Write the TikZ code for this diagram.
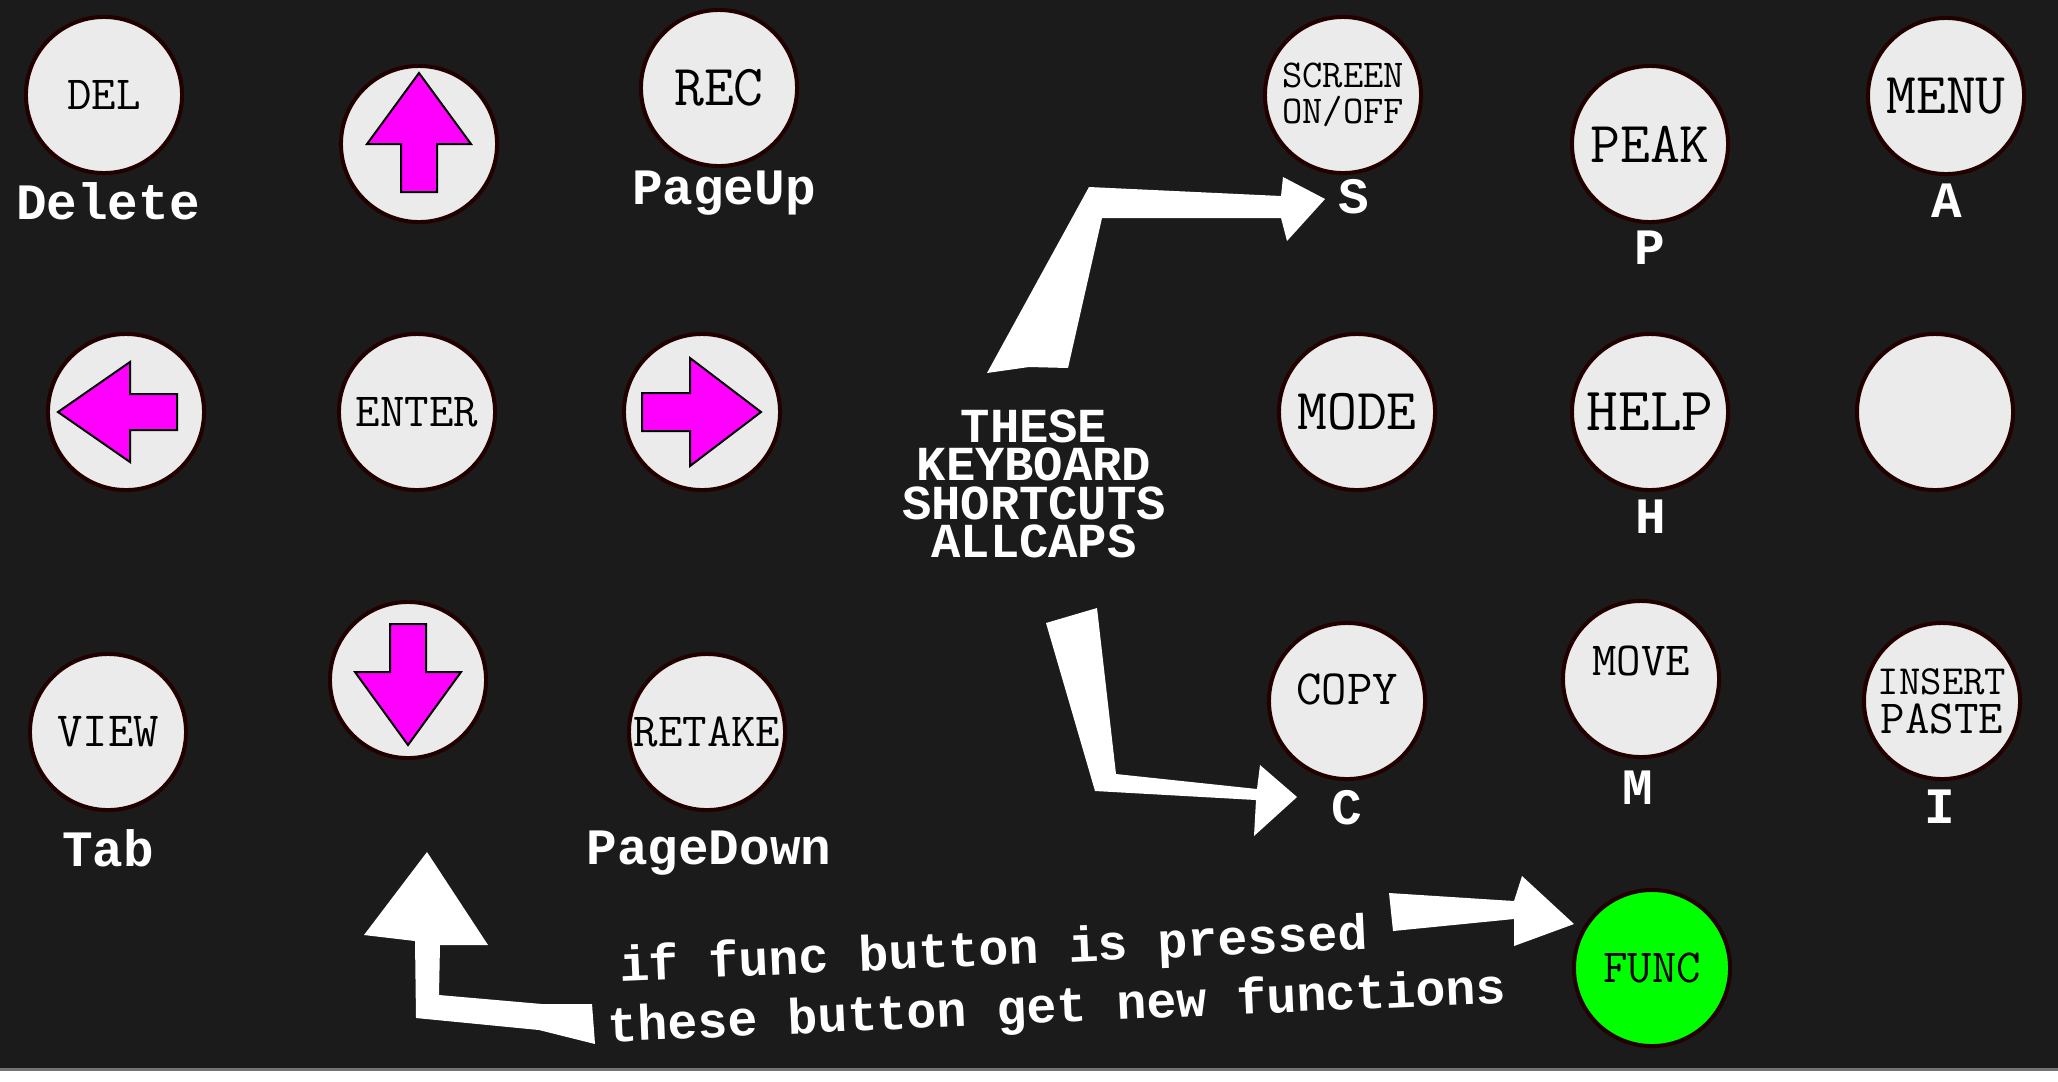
\documentclass[tikz,border=0pt]{standalone}
\usepackage{fontspec}
\newfontfamily\lblfont{Liberation Mono}
\usetikzlibrary{calc}
\definecolor{panel}{HTML}{1B1B1B}
\definecolor{keyface}{HTML}{EBEBEB}
\definecolor{keyrim}{HTML}{220000}
\definecolor{funcgreen}{HTML}{00FF00}
\definecolor{arrowpink}{HTML}{FF00FF}
\tikzset{
  btn/.style     = {circle, draw=keyrim, line width=0.4mm, fill=keyface, minimum size=15.6mm,
                    inner sep=0pt, align=center, font=\ttfamily\fontsize{13.5}{13.5}\selectfont},
  keytxt/.style  = {inner sep=0pt, font=\ttfamily\fontsize{13.5}{13.5}\selectfont},
  bigtxt/.style  = {font=\ttfamily\fontsize{16.5}{16.5}\selectfont},
  lbl/.style     = {text=white, anchor=base, inner sep=0pt,
                    font=\lblfont\bfseries\fontsize{14.5}{17}\selectfont},
  note/.style    = {text=white, inner sep=0pt, font=\lblfont\bfseries\fontsize{14.2}{17}\selectfont},
  pink/.style    = {draw=black, line width=0.2mm, fill=arrowpink},
  fatarrow/.style= {fill=white},
}

\begin{document}
\begin{tikzpicture}[x=0.01cm,y=-0.01cm]
  \useasboundingbox (0,0) rectangle (2058,1081);
  \fill[panel] (0,0) rectangle (2058,1069);
  \fill[black!55] (0,1068) rectangle (2058,1071);
  \fill[white] (0,1071) rectangle (2058,1081);

  % left block
  \node[btn] (del) at (104,95) {DEL};
  \node[btn] (up) at (419,144) {};
  \node[btn,bigtxt] (rec) at (719,88) {REC};
  \node[btn] (left) at (126,412) {};
  \node[btn] (enter) at (417,412) {ENTER};
  \node[btn] (right) at (702,412) {};
  \node[btn,font=\ttfamily\fontsize{14}{14}\selectfont] (view) at (108,732) {VIEW};
  \node[btn] (down) at (408,680) {};
  \node[btn] (retake) at (707,732) {RETAKE};

  \draw[pink,shift={(up)}] (0,-71) -- (52,0) -- (18,0) -- (18,48) -- (-18,48) -- (-18,0) -- (-52,0) -- cycle;
  \draw[pink,shift={(down)}] (-18,-56) -- (18,-56) -- (18,-8) -- (53,-8) -- (0,65) -- (-53,-8) -- (-18,-8) -- cycle;
  \draw[pink,shift={(left)}] (-68,0) -- (4,-50) -- (4,-18) -- (51,-18) -- (51,18) -- (4,18) -- (4,50) -- cycle;
  \draw[pink,shift={(right)}] (-60,-19) -- (-12,-19) -- (-12,-54) -- (59,0) -- (-12,54) -- (-12,19) -- (-60,19) -- cycle;

  % right block
  \node[btn,font=\ttfamily\fontsize{11.2}{10.2}\selectfont] (screen) at (1343,95) {SCREEN\\ON/OFF};
  \node[btn,bigtxt] (peak) at (1650,144) {PEAK};
  \node[btn,bigtxt] (menu) at (1946,96) {MENU};
  \node[btn,bigtxt] (mode) at (1357,412) {MODE};
  \node[btn,font=\ttfamily\fontsize{17.5}{17.5}\selectfont] (help) at (1650,412) {HELP};
  \node[btn] (blank) at (1935,412) {};
  \node[btn] (copy) at (1347,701) {};
  \node[keytxt,font=\ttfamily\fontsize{14}{14}\selectfont] (copyt) at ([yshift=1.2mm]copy.center) {COPY};
  \node[btn] (move) at (1641,679) {};
  \node[keytxt] (movet) at ([yshift=1.8mm]move.center) {MOVE};
  \node[btn,font=\ttfamily\fontsize{13.5}{11.1}\selectfont] (insert) at (1942,701)
    {{\fontsize{11.8}{11.1}\selectfont INSERT}\\PASTE};
  \node[btn,fill=funcgreen] (func) at (1652,968) {FUNC};

  % shortcut keys
  \node[lbl] (kdel) at (108,219) {Delete};
  \node[lbl] (krec) at (724,204) {PageUp};
  \node[lbl] (kscr) at (1354,213) {S};
  \node[lbl] (kpeak) at (1650,264) {P};
  \node[lbl] (kmenu) at (1947,217) {A};
  \node[lbl] (khelp) at (1651,533) {H};
  \node[lbl] (kview) at (108,866) {Tab};
  \node[lbl] (kret) at (709,864) {PageDown};
  \node[lbl] (kcopy) at (1347,824) {C};
  \node[lbl] (kmove) at (1638,804) {M};
  \node[lbl] (kins) at (1940,823) {I};

  \node[note,align=center,font=\lblfont\bfseries\fontsize{13.9}{10.9}\selectfont] (caps) at (1034,484)
    {THESE\\KEYBOARD\\SHORTCUTS\\ALLCAPS};
  \node[note,align=left,rotate=2.5,anchor=west] (funcnote) at (606,999)
    {\hspace*{4pt}if func button is pressed\\these button get new functions};

  \fill[fatarrow] (987,373) -- (1029,367) -- (1068,368) -- (1102,218) -- (1281,218) -- (1287,241)
    -- (1325,199) -- (1283,177) -- (1281,196) -- (1089,187) -- cycle;
  \fill[fatarrow] (1046,623) -- (1097,608) -- (1116,774) -- (1257,789) -- (1260,765) -- (1297,797)
    -- (1254,836) -- (1256,800) -- (1095,791) -- cycle;
  \fill[fatarrow] (1389,893) -- (1514,901) -- (1522,876) -- (1574,924) -- (1514,946) -- (1514,919)
    -- (1393,931) -- cycle;
  \fill[fatarrow] (427,852) -- (488,945) -- (440,945) -- (439,995) -- (542,1004) -- (592,1004)
    -- (595,1044) -- (539,1030) -- (416,1018) -- (415,941) -- (364,935) -- cycle;
\end{tikzpicture}
\end{document}
